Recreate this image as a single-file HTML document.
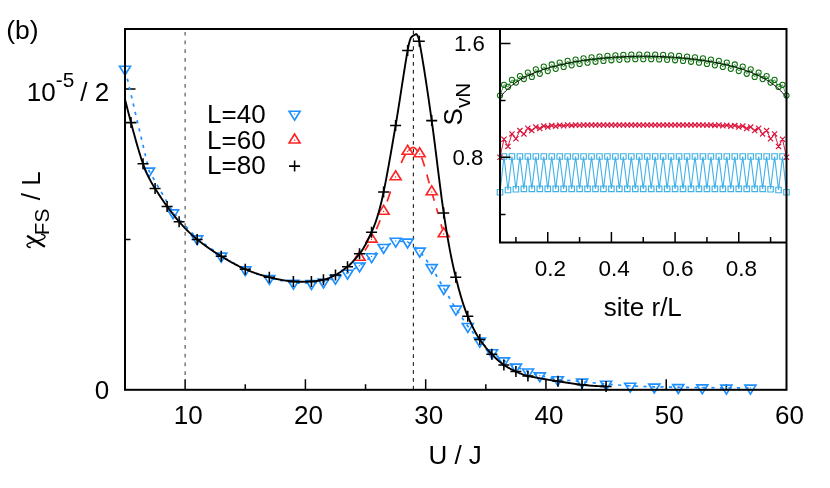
<!DOCTYPE html>
<html><head><meta charset="utf-8"><title>chart</title>
<style>
html,body{margin:0;padding:0;background:#fff;}
body{width:830px;height:488px;overflow:hidden;font-family:"Liberation Sans",sans-serif;}
svg{display:block;will-change:transform;}
</style></head><body>
<svg width="830" height="488" viewBox="0 0 830 488" font-family="'Liberation Sans', sans-serif" fill="#000">
<rect width="830" height="488" fill="#fff"/>
<path d="M185.14 31.9V379.8" stroke="#707070" stroke-width="1.4" stroke-dasharray="3.7 5" fill="none"/>
<path d="M413.35 30.4V389.8" stroke="#000" stroke-width="1.0" stroke-dasharray="3.7 4.2" fill="none"/>
<path d="M185.14 389.8V379.3M305.41 389.8V379.3M425.68 389.8V379.3M545.95 389.8V379.3M666.23 389.8V379.3M245.27 389.8V384.3M365.55 389.8V384.3M485.82 389.8V384.3M606.09 389.8V384.3M726.36 389.8V384.3M125 89H135.5M125 239.4H130.5" stroke="#000" stroke-width="1.5" fill="none"/>
<path d="M125 69 L149.05 170.8 L173.1 212.6 L197.2 238.6 L221.2 255.9 L245.3 269.6 L269.3 278.2 L293.4 283 L311.5 283.3 L323.5 281.8 L335.5 278.1 L347.5 273 L359.5 265.7 L371.6 256.5 L383.6 247.2 L395.7 241" stroke="#1e90ff" stroke-width="1.7" stroke-dasharray="3.2 5.3" stroke-dashoffset="-1.5" fill="none"/>
<path d="M395.7 241 L407.6 241.8 L419.7 250.9 L431.7 267.4 L443.8 288.3 L455.9 308.9 L467.8 326.2 L479.8 340.9 L492 352.5 L504 360.6 L516 366.8 L528 371.7 L539.8 375.6 L557.8 379.5 L582.1 381.8 L606.1 384 L630.2 386 L654.3 386.8 L678.3 387.3 L702.3 387.6 L726.4 387.9 L750.4 387.9" stroke="#1e90ff" stroke-width="1.7" stroke-dasharray="3.2 5.3" stroke-dashoffset="-4.06" fill="none"/>
<path d="M125 75.16 L119.5 66.25 L130.5 66.25 Z" fill="none" stroke="#1e90ff" stroke-width="1.65"/><rect x="124.4" y="68.4" width="1.2" height="1.2" fill="#1e90ff"/>
<path d="M149.05 176.96 L143.55 168.05 L154.55 168.05 Z" fill="none" stroke="#1e90ff" stroke-width="1.65"/><rect x="148.45" y="170.2" width="1.2" height="1.2" fill="#1e90ff"/>
<path d="M173.1 218.76 L167.6 209.85 L178.6 209.85 Z" fill="none" stroke="#1e90ff" stroke-width="1.65"/><rect x="172.5" y="212" width="1.2" height="1.2" fill="#1e90ff"/>
<path d="M197.2 244.76 L191.7 235.85 L202.7 235.85 Z" fill="none" stroke="#1e90ff" stroke-width="1.65"/><rect x="196.6" y="238" width="1.2" height="1.2" fill="#1e90ff"/>
<path d="M221.2 262.06 L215.7 253.15 L226.7 253.15 Z" fill="none" stroke="#1e90ff" stroke-width="1.65"/><rect x="220.6" y="255.3" width="1.2" height="1.2" fill="#1e90ff"/>
<path d="M245.3 275.76 L239.8 266.85 L250.8 266.85 Z" fill="none" stroke="#1e90ff" stroke-width="1.65"/><rect x="244.7" y="269" width="1.2" height="1.2" fill="#1e90ff"/>
<path d="M269.3 284.36 L263.8 275.45 L274.8 275.45 Z" fill="none" stroke="#1e90ff" stroke-width="1.65"/><rect x="268.7" y="277.6" width="1.2" height="1.2" fill="#1e90ff"/>
<path d="M293.4 289.16 L287.9 280.25 L298.9 280.25 Z" fill="none" stroke="#1e90ff" stroke-width="1.65"/><rect x="292.8" y="282.4" width="1.2" height="1.2" fill="#1e90ff"/>
<path d="M311.5 289.46 L306 280.55 L317 280.55 Z" fill="none" stroke="#1e90ff" stroke-width="1.65"/><rect x="310.9" y="282.7" width="1.2" height="1.2" fill="#1e90ff"/>
<path d="M323.5 287.96 L318 279.05 L329 279.05 Z" fill="none" stroke="#1e90ff" stroke-width="1.65"/><rect x="322.9" y="281.2" width="1.2" height="1.2" fill="#1e90ff"/>
<path d="M335.5 284.26 L330 275.35 L341 275.35 Z" fill="none" stroke="#1e90ff" stroke-width="1.65"/><rect x="334.9" y="277.5" width="1.2" height="1.2" fill="#1e90ff"/>
<path d="M347.5 279.16 L342 270.25 L353 270.25 Z" fill="none" stroke="#1e90ff" stroke-width="1.65"/><rect x="346.9" y="272.4" width="1.2" height="1.2" fill="#1e90ff"/>
<path d="M359.5 271.86 L354 262.95 L365 262.95 Z" fill="none" stroke="#1e90ff" stroke-width="1.65"/><rect x="358.9" y="265.1" width="1.2" height="1.2" fill="#1e90ff"/>
<path d="M371.6 262.66 L366.1 253.75 L377.1 253.75 Z" fill="none" stroke="#1e90ff" stroke-width="1.65"/><rect x="371" y="255.9" width="1.2" height="1.2" fill="#1e90ff"/>
<path d="M383.6 253.36 L378.1 244.45 L389.1 244.45 Z" fill="none" stroke="#1e90ff" stroke-width="1.65"/><rect x="383" y="246.6" width="1.2" height="1.2" fill="#1e90ff"/>
<path d="M395.7 247.16 L390.2 238.25 L401.2 238.25 Z" fill="none" stroke="#1e90ff" stroke-width="1.65"/><rect x="395.1" y="240.4" width="1.2" height="1.2" fill="#1e90ff"/>
<path d="M407.6 247.96 L402.1 239.05 L413.1 239.05 Z" fill="none" stroke="#1e90ff" stroke-width="1.65"/><rect x="407" y="241.2" width="1.2" height="1.2" fill="#1e90ff"/>
<path d="M419.7 257.06 L414.2 248.15 L425.2 248.15 Z" fill="none" stroke="#1e90ff" stroke-width="1.65"/><rect x="419.1" y="250.3" width="1.2" height="1.2" fill="#1e90ff"/>
<path d="M431.7 273.56 L426.2 264.65 L437.2 264.65 Z" fill="none" stroke="#1e90ff" stroke-width="1.65"/><rect x="431.1" y="266.8" width="1.2" height="1.2" fill="#1e90ff"/>
<path d="M443.8 294.46 L438.3 285.55 L449.3 285.55 Z" fill="none" stroke="#1e90ff" stroke-width="1.65"/><rect x="443.2" y="287.7" width="1.2" height="1.2" fill="#1e90ff"/>
<path d="M455.9 315.06 L450.4 306.15 L461.4 306.15 Z" fill="none" stroke="#1e90ff" stroke-width="1.65"/><rect x="455.3" y="308.3" width="1.2" height="1.2" fill="#1e90ff"/>
<path d="M467.8 332.36 L462.3 323.45 L473.3 323.45 Z" fill="none" stroke="#1e90ff" stroke-width="1.65"/><rect x="467.2" y="325.6" width="1.2" height="1.2" fill="#1e90ff"/>
<path d="M479.8 347.06 L474.3 338.15 L485.3 338.15 Z" fill="none" stroke="#1e90ff" stroke-width="1.65"/><rect x="479.2" y="340.3" width="1.2" height="1.2" fill="#1e90ff"/>
<path d="M492 358.66 L486.5 349.75 L497.5 349.75 Z" fill="none" stroke="#1e90ff" stroke-width="1.65"/><rect x="491.4" y="351.9" width="1.2" height="1.2" fill="#1e90ff"/>
<path d="M504 366.76 L498.5 357.85 L509.5 357.85 Z" fill="none" stroke="#1e90ff" stroke-width="1.65"/><rect x="503.4" y="360" width="1.2" height="1.2" fill="#1e90ff"/>
<path d="M516 372.96 L510.5 364.05 L521.5 364.05 Z" fill="none" stroke="#1e90ff" stroke-width="1.65"/><rect x="515.4" y="366.2" width="1.2" height="1.2" fill="#1e90ff"/>
<path d="M528 377.86 L522.5 368.95 L533.5 368.95 Z" fill="none" stroke="#1e90ff" stroke-width="1.65"/><rect x="527.4" y="371.1" width="1.2" height="1.2" fill="#1e90ff"/>
<path d="M539.8 381.76 L534.3 372.85 L545.3 372.85 Z" fill="none" stroke="#1e90ff" stroke-width="1.65"/><rect x="539.2" y="375" width="1.2" height="1.2" fill="#1e90ff"/>
<path d="M557.8 385.66 L552.3 376.75 L563.3 376.75 Z" fill="none" stroke="#1e90ff" stroke-width="1.65"/><rect x="557.2" y="378.9" width="1.2" height="1.2" fill="#1e90ff"/>
<path d="M582.1 387.96 L576.6 379.05 L587.6 379.05 Z" fill="none" stroke="#1e90ff" stroke-width="1.65"/><rect x="581.5" y="381.2" width="1.2" height="1.2" fill="#1e90ff"/>
<path d="M606.1 390.16 L600.6 381.25 L611.6 381.25 Z" fill="none" stroke="#1e90ff" stroke-width="1.65"/><rect x="605.5" y="383.4" width="1.2" height="1.2" fill="#1e90ff"/>
<path d="M630.2 392.16 L624.7 383.25 L635.7 383.25 Z" fill="none" stroke="#1e90ff" stroke-width="1.65"/><rect x="629.6" y="385.4" width="1.2" height="1.2" fill="#1e90ff"/>
<path d="M654.3 392.96 L648.8 384.05 L659.8 384.05 Z" fill="none" stroke="#1e90ff" stroke-width="1.65"/><rect x="653.7" y="386.2" width="1.2" height="1.2" fill="#1e90ff"/>
<path d="M678.3 393.46 L672.8 384.55 L683.8 384.55 Z" fill="none" stroke="#1e90ff" stroke-width="1.65"/><rect x="677.7" y="386.7" width="1.2" height="1.2" fill="#1e90ff"/>
<path d="M702.3 393.76 L696.8 384.85 L707.8 384.85 Z" fill="none" stroke="#1e90ff" stroke-width="1.65"/><rect x="701.7" y="387" width="1.2" height="1.2" fill="#1e90ff"/>
<path d="M726.4 394.06 L720.9 385.15 L731.9 385.15 Z" fill="none" stroke="#1e90ff" stroke-width="1.65"/><rect x="725.8" y="387.3" width="1.2" height="1.2" fill="#1e90ff"/>
<path d="M750.4 394.06 L744.9 385.15 L755.9 385.15 Z" fill="none" stroke="#1e90ff" stroke-width="1.65"/><rect x="749.8" y="387.3" width="1.2" height="1.2" fill="#1e90ff"/>
<path d="M364.88 250.48 L365.22 249.97 L365.55 249.46 L365.89 248.94 L366.23 248.41 L366.57 247.88 L366.9 247.34 L367.24 246.79 L367.58 246.24 L367.91 245.68 L368.25 245.12 L368.59 244.55 M376.42 229.19 L376.76 228.41 L377.09 227.63 L377.43 226.83 L377.77 226.03 L378.11 225.23 L378.44 224.42 L378.78 223.6 L379.12 222.78 L379.45 221.95 L379.79 221.11 L380.13 220.27 M387.12 201.6 L387.46 200.59 L387.79 199.57 L388.13 198.55 L388.47 197.53 L388.8 196.5 L389.14 195.47 L389.48 194.44 L389.81 193.42 L390.15 192.39 L390.49 191.36 M401.27 162.97 L401.61 162.19 L401.94 161.41 L402.28 160.65 L402.62 159.91 L402.95 159.18 L403.29 158.48 L403.63 157.79 L403.96 157.12 L404.3 156.47 L404.64 155.85 L404.98 155.25 L405.31 154.67 M408.51 150.59 L408.85 150.24 L409.19 149.89 L409.52 149.56 L409.86 149.24 L410.2 148.93 L410.53 148.64 L410.87 148.38 L411.21 148.15 L411.55 147.95 L411.88 147.78 L412.22 147.64 L412.56 147.55 L412.89 147.51 L413.23 147.51 L413.57 147.56 L413.9 147.66 L414.24 147.8 L414.58 147.99 L414.92 148.22 L415.25 148.48 L415.59 148.78 L415.93 149.11 L416.26 149.46 L416.6 149.84 L416.94 150.25 L417.27 150.67 L417.61 151.11 L417.95 151.57 L418.28 152.03 M421.57 157.63 L421.91 158.45 L422.24 159.31 L422.58 160.22 L422.92 161.16 L423.25 162.15 L423.59 163.17 L423.93 164.23 L424.26 165.31 L424.6 166.43 M426.88 174.49 L427.21 175.74 L427.55 177 L427.89 178.26 L428.22 179.52 L428.56 180.78 L428.9 182.03 L429.23 183.29 M432.6 195.03 L432.94 196.16 L433.28 197.29 L433.61 198.42 L433.95 199.56 L434.29 200.7 M436.48 208.21 L436.82 209.38 L437.15 210.55 L437.49 211.72 L437.83 212.9 L438.16 214.08 M441.03 224.24 L441.36 225.45 L441.7 226.66 L442.04 227.87 L442.37 229.09" stroke="#ff2424" stroke-width="1.7" fill="none"/>
<path d="M359.53 251.34 L354.03 260.25 L365.03 260.25 Z" fill="none" stroke="#ff2424" stroke-width="1.65"/><rect x="358.93" y="256.9" width="1.2" height="1.2" fill="#ff2424"/>
<path d="M371.56 233.14 L366.06 242.05 L377.06 242.05 Z" fill="none" stroke="#ff2424" stroke-width="1.65"/><rect x="370.96" y="238.7" width="1.2" height="1.2" fill="#ff2424"/>
<path d="M383.59 205.34 L378.09 214.25 L389.09 214.25 Z" fill="none" stroke="#ff2424" stroke-width="1.65"/><rect x="382.99" y="210.9" width="1.2" height="1.2" fill="#ff2424"/>
<path d="M395.61 170.84 L390.11 179.75 L401.11 179.75 Z" fill="none" stroke="#ff2424" stroke-width="1.65"/><rect x="395.01" y="176.4" width="1.2" height="1.2" fill="#ff2424"/>
<path d="M407.64 145.34 L402.14 154.25 L413.14 154.25 Z" fill="none" stroke="#ff2424" stroke-width="1.65"/><rect x="407.04" y="150.9" width="1.2" height="1.2" fill="#ff2424"/>
<path d="M419.67 147.84 L414.17 156.75 L425.17 156.75 Z" fill="none" stroke="#ff2424" stroke-width="1.65"/><rect x="419.07" y="153.4" width="1.2" height="1.2" fill="#ff2424"/>
<path d="M431.7 185.84 L426.2 194.75 L437.2 194.75 Z" fill="none" stroke="#ff2424" stroke-width="1.65"/><rect x="431.1" y="191.4" width="1.2" height="1.2" fill="#ff2424"/>
<path d="M443.72 227.84 L438.22 236.75 L449.22 236.75 Z" fill="none" stroke="#ff2424" stroke-width="1.65"/><rect x="443.12" y="233.4" width="1.2" height="1.2" fill="#ff2424"/>
<path d="M125 99.2 L125.54 101.39 L126.07 103.55 L126.61 105.68 L127.14 107.79 L127.68 109.88 L128.21 111.95 L128.75 114 L129.28 116.04 L129.82 118.08 L130.35 120.1 L130.89 122.12 L131.42 124.14 L131.96 126.15 L132.49 128.16 L133.03 130.16 L133.56 132.14 L134.1 134.12 L134.63 136.08 L135.17 138.03 L135.7 139.96 L136.24 141.87 L136.77 143.76 L137.31 145.63 L137.84 147.48 L138.38 149.3 L138.91 151.09 L139.45 152.85 L139.98 154.58 L140.52 156.28 L141.05 157.95 L141.59 159.58 L142.12 161.17 L142.66 162.72 L143.19 164.23 L143.73 165.69 L144.27 167.11 L144.8 168.48 L145.34 169.82 L145.87 171.1 L146.41 172.35 L146.94 173.57 L147.48 174.74 L148.01 175.88 L148.55 176.99 L149.08 178.07 L149.62 179.12 L150.15 180.14 L150.69 181.13 L151.22 182.1 L151.76 183.05 L152.29 183.97 L152.83 184.88 L153.36 185.77 L153.9 186.64 L154.43 187.5 L154.97 188.34 L155.5 189.18 L156.04 190.02 L156.57 190.85 L157.11 191.69 L157.64 192.52 L158.18 193.35 L158.71 194.17 L159.25 194.99 L159.78 195.81 L160.32 196.63 L160.85 197.44 L161.39 198.24 L161.92 199.04 L162.46 199.84 L162.99 200.62 L163.53 201.4 L164.07 202.18 L164.6 202.94 L165.14 203.7 L165.67 204.45 L166.21 205.19 L166.74 205.92 L167.28 206.64 L167.81 207.36 L168.35 208.08 L168.88 208.8 L169.42 209.51 L169.95 210.22 L170.49 210.93 L171.02 211.64 L171.56 212.34 L172.09 213.04 L172.63 213.73 L173.16 214.42 L173.7 215.11 L174.23 215.79 L174.77 216.46 L175.3 217.13 L175.84 217.79 L176.37 218.45 L176.91 219.1 L177.44 219.74 L177.98 220.37 L178.51 221 L179.05 221.62 L179.58 222.23 L180.12 222.83 L180.65 223.43 L181.19 224.03 L181.72 224.62 L182.26 225.21 L182.8 225.79 L183.33 226.37 L183.87 226.94 L184.4 227.5 L184.94 228.07 L185.47 228.62 L186.01 229.17 L186.54 229.72 L187.08 230.26 L187.61 230.79 L188.15 231.32 L188.68 231.85 L189.22 232.37 L189.75 232.88 L190.29 233.39 L190.82 233.89 L191.36 234.38 L191.89 234.88 L192.43 235.36 L192.96 235.84 L193.5 236.31 L194.03 236.78 L194.57 237.24 L195.1 237.7 L195.64 238.15 L196.17 238.59 L196.71 239.03 L197.24 239.46 L197.78 239.89 L198.31 240.32 L198.85 240.74 L199.38 241.16 L199.92 241.58 L200.45 242 L200.99 242.41 L201.53 242.82 L202.06 243.23 L202.6 243.64 L203.13 244.04 L203.67 244.44 L204.2 244.84 L204.74 245.24 L205.27 245.63 L205.81 246.02 L206.34 246.41 L206.88 246.8 L207.41 247.18 L207.95 247.57 L208.48 247.95 L209.02 248.32 L209.55 248.7 L210.09 249.07 L210.62 249.44 L211.16 249.81 L211.69 250.18 L212.23 250.54 L212.76 250.9 L213.3 251.26 L213.83 251.61 L214.37 251.97 L214.9 252.32 L215.44 252.67 L215.97 253.02 L216.51 253.36 L217.04 253.7 L217.58 254.04 L218.11 254.38 L218.65 254.72 L219.18 255.05 L219.72 255.38 L220.25 255.71 L220.79 256.04 L221.33 256.36 L221.86 256.69 L222.4 257.01 L222.93 257.33 L223.47 257.65 L224 257.97 L224.54 258.29 L225.07 258.61 L225.61 258.92 L226.14 259.24 L226.68 259.55 L227.21 259.86 L227.75 260.17 L228.28 260.48 L228.82 260.79 L229.35 261.09 L229.89 261.4 L230.42 261.7 L230.96 262 L231.49 262.3 L232.03 262.59 L232.56 262.89 L233.1 263.18 L233.63 263.47 L234.17 263.76 L234.7 264.05 L235.24 264.33 L235.77 264.61 L236.31 264.89 L236.84 265.17 L237.38 265.45 L237.91 265.72 L238.45 265.99 L238.98 266.26 L239.52 266.52 L240.06 266.79 L240.59 267.05 L241.13 267.3 L241.66 267.56 L242.2 267.81 L242.73 268.06 L243.27 268.3 L243.8 268.55 L244.34 268.79 L244.87 269.02 L245.41 269.26 L245.94 269.49 L246.48 269.72 L247.01 269.94 L247.55 270.17 L248.08 270.39 L248.62 270.61 L249.15 270.82 L249.69 271.03 L250.22 271.24 L250.76 271.45 L251.29 271.66 L251.83 271.86 L252.36 272.06 L252.9 272.26 L253.43 272.46 L253.97 272.65 L254.5 272.84 L255.04 273.03 L255.57 273.22 L256.11 273.4 L256.64 273.59 L257.18 273.77 L257.71 273.94 L258.25 274.12 L258.79 274.29 L259.32 274.46 L259.86 274.63 L260.39 274.8 L260.93 274.97 L261.46 275.13 L262 275.29 L262.53 275.45 L263.07 275.61 L263.6 275.76 L264.14 275.91 L264.67 276.07 L265.21 276.21 L265.74 276.36 L266.28 276.51 L266.81 276.65 L267.35 276.79 L267.88 276.93 L268.42 277.07 L268.95 277.21 L269.49 277.34 L270.02 277.47 L270.56 277.6 L271.09 277.73 L271.63 277.86 L272.16 277.99 L272.7 278.12 L273.23 278.24 L273.77 278.36 L274.3 278.48 L274.84 278.6 L275.37 278.72 L275.91 278.83 L276.44 278.95 L276.98 279.06 L277.51 279.17 L278.05 279.28 L278.59 279.39 L279.12 279.49 L279.66 279.59 L280.19 279.69 L280.73 279.79 L281.26 279.89 L281.8 279.99 L282.33 280.08 L282.87 280.17 L283.4 280.26 L283.94 280.35 L284.47 280.43 L285.01 280.51 L285.54 280.59 L286.08 280.67 L286.61 280.75 L287.15 280.82 L287.68 280.89 L288.22 280.96 L288.75 281.03 L289.29 281.09 L289.82 281.15 L290.36 281.21 L290.89 281.27 L291.43 281.32 L291.96 281.38 L292.5 281.42 L293.03 281.47 L293.57 281.52 L294.1 281.56 L294.64 281.59 L295.17 281.63 L295.71 281.66 L296.24 281.69 L296.78 281.71 L297.32 281.73 L297.85 281.75 L298.39 281.77 L298.92 281.78 L299.46 281.79 L299.99 281.8 L300.53 281.81 L301.06 281.81 L301.6 281.81 L302.13 281.81 L302.67 281.81 L303.2 281.8 L303.74 281.8 L304.27 281.79 L304.81 281.78 L305.34 281.76 L305.88 281.75 L306.41 281.73 L306.95 281.71 L307.48 281.69 L308.02 281.67 L308.55 281.65 L309.09 281.62 L309.62 281.6 L310.16 281.57 L310.69 281.54 L311.23 281.51 L311.76 281.48 L312.3 281.44 L312.83 281.41 L313.37 281.36 L313.9 281.32 L314.44 281.26 L314.97 281.21 L315.51 281.15 L316.04 281.09 L316.58 281.02 L317.12 280.95 L317.65 280.87 L318.19 280.79 L318.72 280.71 L319.26 280.62 L319.79 280.53 L320.33 280.44 L320.86 280.34 L321.4 280.23 L321.93 280.13 L322.47 280.02 L323 279.9 L323.54 279.78 L324.07 279.65 L324.61 279.51 L325.14 279.37 L325.68 279.21 L326.21 279.04 L326.75 278.86 L327.28 278.68 L327.82 278.48 L328.35 278.28 L328.89 278.07 L329.42 277.85 L329.96 277.63 L330.49 277.4 L331.03 277.16 L331.56 276.92 L332.1 276.67 L332.63 276.42 L333.17 276.16 L333.7 275.9 L334.24 275.63 L334.77 275.36 L335.31 275.09 L335.85 274.81 L336.38 274.52 L336.92 274.22 L337.45 273.91 L337.99 273.59 L338.52 273.26 L339.06 272.92 L339.59 272.57 L340.13 272.22 L340.66 271.85 L341.2 271.48 L341.73 271.11 L342.27 270.72 L342.8 270.33 L343.34 269.94 L343.87 269.53 L344.41 269.13 L344.94 268.72 L345.48 268.3 L346.01 267.88 L346.55 267.46 L347.08 267.04 L347.62 266.61 L348.15 266.17 L348.69 265.71 L349.22 265.23 L349.76 264.74 L350.29 264.23 L350.83 263.7 L351.36 263.17 L351.9 262.62 L352.43 262.05 L352.97 261.48 L353.5 260.89 L354.04 260.29 L354.58 259.69 L355.11 259.08 L355.65 258.46 L356.18 257.83 L356.72 257.2 L357.25 256.56 L357.79 255.91 L358.32 255.27 L358.86 254.62 L359.39 253.97 L359.93 253.31 L360.46 252.61 L361 251.88 L361.53 251.12 L362.07 250.32 L362.6 249.5 L363.14 248.64 L363.67 247.76 L364.21 246.84 L364.74 245.9 L365.28 244.94 L365.81 243.95 L366.35 242.94 L366.88 241.91 L367.42 240.86 L367.95 239.79 L368.49 238.71 L369.02 237.6 L369.56 236.49 L370.09 235.36 L370.63 234.21 L371.16 233.06 L371.7 231.89 L372.23 230.69 L372.77 229.46 L373.3 228.17 L373.84 226.84 L374.38 225.46 L374.91 224.03 L375.45 222.55 L375.98 221.01 L376.52 219.42 L377.05 217.77 L377.59 216.05 L378.12 214.27 L378.66 212.43 L379.19 210.52 L379.73 208.54 L380.26 206.49 L380.8 204.36 L381.33 202.16 L381.87 199.88 L382.4 197.52 L382.94 195.08 L383.47 192.55 L384.01 189.95 L384.54 187.29 L385.08 184.59 L385.61 181.85 L386.15 179.07 L386.68 176.24 L387.22 173.38 L387.75 170.49 L388.29 167.56 L388.82 164.6 L389.36 161.62 L389.89 158.61 L390.43 155.57 L390.96 152.52 L391.5 149.45 L392.03 146.36 L392.57 143.26 L393.11 140.15 L393.64 137.03 L394.18 133.91 L394.71 130.78 L395.25 127.65 L395.78 124.52 L396.32 121.34 L396.85 118.1 L397.39 114.82 L397.92 111.49 L398.46 108.12 L398.99 104.71 L399.53 101.28 L400.06 97.84 L400.6 94.37 L401.13 90.9 L401.67 87.43 L402.2 83.96 L402.74 80.5 L403.27 77.06 L403.81 73.65 L404.34 70.26 L404.88 66.91 L405.41 63.6 L405.95 60.33 L406.48 57.13 L407.02 53.98 L407.55 50.89 L408.09 47.96 L408.62 45.31 L409.16 42.97 L409.69 40.97 L410.23 39.33 L410.76 38.06 L411.3 37.2 L411.84 36.69 L412.37 36.26 L412.91 35.87 L413.44 35.51 L413.98 35.18 L414.51 34.85 L415.05 34.55 L415.58 34.28 L416.12 34.07 L416.65 34.32 L417.19 35.04 L417.72 36.05 L418.26 37.23 L418.79 38.88 L419.33 41.31 L419.86 44.2 L420.4 47.15 L420.93 50.17 L421.47 53.25 L422 56.39 L422.54 59.58 L423.07 62.82 L423.61 66.12 L424.14 69.46 L424.68 72.85 L425.21 76.28 L425.75 79.76 L426.28 83.28 L426.82 86.83 L427.35 90.42 L427.89 94.05 L428.42 97.7 L428.96 101.39 L429.49 105.1 L430.03 108.83 L430.56 112.59 L431.1 116.37 L431.64 120.17 L432.17 124.02 L432.71 127.95 L433.24 131.96 L433.78 136.04 L434.31 140.18 L434.85 144.37 L435.38 148.61 L435.92 152.87 L436.45 157.16 L436.99 161.47 L437.52 165.77 L438.06 170.08 L438.59 174.37 L439.13 178.64 L439.66 182.87 L440.2 187.07 L440.73 191.21 L441.27 195.29 L441.8 199.31 L442.34 203.24 L442.87 207.09 L443.41 210.84 L443.94 214.49 L444.48 218.06 L445.01 221.56 L445.55 224.98 L446.08 228.33 L446.62 231.61 L447.15 234.82 L447.69 237.95 L448.22 241.02 L448.76 244.02 L449.29 246.95 L449.83 249.81 L450.37 252.61 L450.9 255.34 L451.44 258 L451.97 260.61 L452.51 263.14 L453.04 265.62 L453.58 268.03 L454.11 270.38 L454.65 272.67 L455.18 274.9 L455.72 277.07 L456.25 279.19 L456.79 281.29 L457.32 283.36 L457.86 285.4 L458.39 287.42 L458.93 289.4 L459.46 291.34 L460 293.25 L460.53 295.13 L461.07 296.96 L461.6 298.76 L462.14 300.52 L462.67 302.24 L463.21 303.91 L463.74 305.53 L464.28 307.11 L464.81 308.65 L465.35 310.13 L465.88 311.56 L466.42 312.94 L466.95 314.27 L467.49 315.54 L468.02 316.76 L468.56 317.97 L469.1 319.17 L469.63 320.36 L470.17 321.54 L470.7 322.71 L471.24 323.87 L471.77 325.02 L472.31 326.15 L472.84 327.26 L473.38 328.35 L473.91 329.42 L474.45 330.47 L474.98 331.5 L475.52 332.51 L476.05 333.49 L476.59 334.44 L477.12 335.36 L477.66 336.25 L478.19 337.11 L478.73 337.94 L479.26 338.73 L479.8 339.49 L480.33 340.23 L480.87 340.96 L481.4 341.69 L481.94 342.42 L482.47 343.13 L483.01 343.85 L483.54 344.56 L484.08 345.26 L484.61 345.95 L485.15 346.64 L485.68 347.31 L486.22 347.98 L486.75 348.64 L487.29 349.29 L487.82 349.93 L488.36 350.55 L488.9 351.17 L489.43 351.77 L489.97 352.36 L490.5 352.93 L491.04 353.49 L491.57 354.04 L492.11 354.57 L492.64 355.1 L493.18 355.63 L493.71 356.16 L494.25 356.69 L494.78 357.21 L495.32 357.73 L495.85 358.24 L496.39 358.75 L496.92 359.25 L497.46 359.75 L497.99 360.23 L498.53 360.71 L499.06 361.19 L499.6 361.65 L500.13 362.1 L500.67 362.54 L501.2 362.97 L501.74 363.38 L502.27 363.79 L502.81 364.18 L503.34 364.55 L503.88 364.91 L504.41 365.26 L504.95 365.61 L505.48 365.95 L506.02 366.28 L506.55 366.61 L507.09 366.93 L507.63 367.25 L508.16 367.57 L508.7 367.87 L509.23 368.18 L509.77 368.47 L510.3 368.76 L510.84 369.05 L511.37 369.33 L511.91 369.61 L512.44 369.88 L512.98 370.15 L513.51 370.41 L514.05 370.66 L514.58 370.91 L515.12 371.16 L515.65 371.4 L516.19 371.63 L516.72 371.87 L517.26 372.11 L517.79 372.34 L518.33 372.58 L518.86 372.82 L519.4 373.05 L519.93 373.28 L520.47 373.51 L521 373.74 L521.54 373.96 L522.07 374.17 L522.61 374.38 L523.14 374.58 L523.68 374.78 L524.21 374.97 L524.75 375.15 L525.28 375.32 L525.82 375.48 L526.36 375.63 L526.89 375.77 L527.43 375.89 L527.96 376.01 L528.5 376.12 L529.03 376.23 L529.57 376.34 L530.1 376.44 L530.64 376.55 L531.17 376.66 L531.71 376.76 L532.24 376.87 L532.78 376.97 L533.31 377.08 L533.85 377.18 L534.38 377.28 L534.92 377.38 L535.45 377.49 L535.99 377.59 L536.52 377.69 L537.06 377.79 L537.59 377.88 L538.13 377.98 L538.66 378.08 L539.2 378.18 L539.73 378.27 L540.27 378.37 L540.8 378.47 L541.34 378.56 L541.87 378.66 L542.41 378.75 L542.94 378.84 L543.48 378.94 L544.01 379.03 L544.55 379.12 L545.08 379.21 L545.62 379.3 L546.16 379.39 L546.69 379.49 L547.23 379.57 L547.76 379.66 L548.3 379.75 L548.83 379.84 L549.37 379.93 L549.9 380.02 L550.44 380.11 L550.97 380.19 L551.51 380.28 L552.04 380.36 L552.58 380.45 L553.11 380.54 L553.65 380.62 L554.18 380.71 L554.72 380.79 L555.25 380.88 L555.79 380.96 L556.32 381.04 L556.86 381.13 L557.39 381.21 L557.93 381.29 L558.46 381.37 L559 381.46 L559.53 381.54 L560.07 381.62 L560.6 381.71 L561.14 381.79 L561.67 381.87 L562.21 381.95 L562.74 382.04 L563.28 382.12 L563.81 382.2 L564.35 382.28 L564.89 382.37 L565.42 382.45 L565.96 382.53 L566.49 382.61 L567.03 382.69 L567.56 382.78 L568.1 382.86 L568.63 382.94 L569.17 383.02 L569.7 383.1 L570.24 383.18 L570.77 383.26 L571.31 383.33 L571.84 383.41 L572.38 383.49 L572.91 383.57 L573.45 383.65 L573.98 383.72 L574.52 383.8 L575.05 383.87 L575.59 383.95 L576.12 384.02 L576.66 384.1 L577.19 384.17 L577.73 384.24 L578.26 384.31 L578.8 384.39 L579.33 384.46 L579.87 384.53 L580.4 384.59 L580.94 384.66 L581.47 384.73 L582.01 384.8 L582.54 384.86 L583.08 384.93 L583.62 384.99 L584.15 385.05 L584.69 385.11 L585.22 385.16 L585.76 385.22 L586.29 385.27 L586.83 385.32 L587.36 385.37 L587.9 385.42 L588.43 385.47 L588.97 385.52 L589.5 385.56 L590.04 385.6 L590.57 385.65 L591.11 385.69 L591.64 385.73 L592.18 385.77 L592.71 385.8 L593.25 385.84 L593.78 385.87 L594.32 385.91 L594.85 385.94 L595.39 385.97 L595.92 386 L596.46 386.03 L596.99 386.06 L597.53 386.08 L598.06 386.11 L598.6 386.13 L599.13 386.16 L599.67 386.18 L600.2 386.2 L600.74 386.22 L601.27 386.25 L601.81 386.27 L602.34 386.28 L602.88 386.3 L603.42 386.32 L603.95 386.34 L604.49 386.35 L605.02 386.37 L605.56 386.39 L606.09 386.4" stroke="#000" stroke-width="1.9" fill="none" stroke-linejoin="round"/>
<path d="M125.51 122.6H136.51M131.01 117.1V128.1" stroke="#000" stroke-width="1.55" fill="none"/>
<path d="M137.54 163.8H148.54M143.04 158.3V169.3" stroke="#000" stroke-width="1.55" fill="none"/>
<path d="M149.57 188.5H160.57M155.07 183V194" stroke="#000" stroke-width="1.55" fill="none"/>
<path d="M161.6 206.4H172.6M167.1 200.9V211.9" stroke="#000" stroke-width="1.55" fill="none"/>
<path d="M173.62 221.7H184.62M179.12 216.2V227.2" stroke="#000" stroke-width="1.55" fill="none"/>
<path d="M191.66 239.4H202.66M197.16 233.9V244.9" stroke="#000" stroke-width="1.55" fill="none"/>
<path d="M215.72 256.3H226.72M221.22 250.8V261.8" stroke="#000" stroke-width="1.55" fill="none"/>
<path d="M239.77 269.2H250.77M245.27 263.7V274.7" stroke="#000" stroke-width="1.55" fill="none"/>
<path d="M263.83 277.3H274.83M269.33 271.8V282.8" stroke="#000" stroke-width="1.55" fill="none"/>
<path d="M287.88 281.5H298.88M293.38 276V287" stroke="#000" stroke-width="1.55" fill="none"/>
<path d="M305.92 281.5H316.92M311.42 276V287" stroke="#000" stroke-width="1.55" fill="none"/>
<path d="M317.95 279.8H328.95M323.45 274.3V285.3" stroke="#000" stroke-width="1.55" fill="none"/>
<path d="M329.98 275H340.98M335.48 269.5V280.5" stroke="#000" stroke-width="1.55" fill="none"/>
<path d="M342 266.7H353M347.5 261.2V272.2" stroke="#000" stroke-width="1.55" fill="none"/>
<path d="M354.03 253.8H365.03M359.53 248.3V259.3" stroke="#000" stroke-width="1.55" fill="none"/>
<path d="M366.06 232.2H377.06M371.56 226.7V237.7" stroke="#000" stroke-width="1.55" fill="none"/>
<path d="M378.09 192H389.09M383.59 186.5V197.5" stroke="#000" stroke-width="1.55" fill="none"/>
<path d="M390.11 125.5H401.11M395.61 120V131" stroke="#000" stroke-width="1.55" fill="none"/>
<path d="M402.14 50.4H413.14M407.64 44.9V55.9" stroke="#000" stroke-width="1.55" fill="none"/>
<path d="M413.81 41.2H424.81M419.31 35.7V46.7" stroke="#000" stroke-width="1.55" fill="none"/>
<path d="M426.2 120.6H437.2M431.7 115.1V126.1" stroke="#000" stroke-width="1.55" fill="none"/>
<path d="M438.22 213H449.22M443.72 207.5V218.5" stroke="#000" stroke-width="1.55" fill="none"/>
<path d="M450.25 277.2H461.25M455.75 271.7V282.7" stroke="#000" stroke-width="1.55" fill="none"/>
<path d="M462.28 316.2H473.28M467.78 310.7V321.7" stroke="#000" stroke-width="1.55" fill="none"/>
<path d="M474.3 339.5H485.3M479.8 334V345" stroke="#000" stroke-width="1.55" fill="none"/>
<path d="M486.33 354.3H497.33M491.83 348.8V359.8" stroke="#000" stroke-width="1.55" fill="none"/>
<path d="M498.36 364.9H509.36M503.86 359.4V370.4" stroke="#000" stroke-width="1.55" fill="none"/>
<path d="M510.39 371.5H521.39M515.89 366V377" stroke="#000" stroke-width="1.55" fill="none"/>
<path d="M522.41 376H533.41M527.91 370.5V381.5" stroke="#000" stroke-width="1.55" fill="none"/>
<path d="M552.48 381.3H563.48M557.98 375.8V386.8" stroke="#000" stroke-width="1.55" fill="none"/>
<path d="M576.54 384.8H587.54M582.04 379.3V390.3" stroke="#000" stroke-width="1.55" fill="none"/>
<path d="M600.59 386.4H611.59M606.09 380.9V391.9" stroke="#000" stroke-width="1.55" fill="none"/>
<path d="M500 192.2 L503.98 156.5 L507.96 190 L511.94 156.5 L515.92 189.2 L519.9 156.5 L523.88 188.9 L527.85 156.5 L531.83 188.9 L535.81 156.5 L539.79 188.9 L543.77 156.5 L547.75 188.9 L551.73 156.5 L555.71 188.9 L559.69 156.5 L563.67 188.9 L567.65 156.5 L571.62 188.9 L575.6 156.5 L579.58 188.9 L583.56 156.5 L587.54 188.9 L591.52 156.5 L595.5 188.9 L599.48 156.5 L603.46 188.9 L607.44 156.5 L611.42 188.9 L615.4 156.5 L619.38 188.9 L623.35 156.5 L627.33 188.9 L631.31 156.5 L635.29 188.9 L639.27 156.5 L643.25 188.9 L647.23 156.5 L651.21 188.9 L655.19 156.5 L659.17 188.9 L663.15 156.5 L667.12 188.9 L671.1 156.5 L675.08 188.9 L679.06 156.5 L683.04 188.9 L687.02 156.5 L691 188.9 L694.98 156.5 L698.96 188.9 L702.94 156.5 L706.92 188.9 L710.9 156.5 L714.88 188.9 L718.85 156.5 L722.83 188.9 L726.81 156.5 L730.79 188.9 L734.77 156.5 L738.75 188.9 L742.73 156.5 L746.71 188.9 L750.69 156.5 L754.67 188.9 L758.65 156.5 L762.62 188.9 L766.6 156.5 L770.58 189.2 L774.56 156.5 L778.54 190 L782.52 156.5 L786.5 192.2" stroke="#41b1e6" stroke-width="1.1" fill="none"/>
<path d="M497.25 189.45h5.5v5.5h-5.5zM501.23 153.75h5.5v5.5h-5.5zM505.21 187.25h5.5v5.5h-5.5zM509.19 153.75h5.5v5.5h-5.5zM513.17 186.45h5.5v5.5h-5.5zM517.15 153.75h5.5v5.5h-5.5zM521.12 186.15h5.5v5.5h-5.5zM525.1 153.75h5.5v5.5h-5.5zM529.08 186.15h5.5v5.5h-5.5zM533.06 153.75h5.5v5.5h-5.5zM537.04 186.15h5.5v5.5h-5.5zM541.02 153.75h5.5v5.5h-5.5zM545 186.15h5.5v5.5h-5.5zM548.98 153.75h5.5v5.5h-5.5zM552.96 186.15h5.5v5.5h-5.5zM556.94 153.75h5.5v5.5h-5.5zM560.92 186.15h5.5v5.5h-5.5zM564.9 153.75h5.5v5.5h-5.5zM568.88 186.15h5.5v5.5h-5.5zM572.85 153.75h5.5v5.5h-5.5zM576.83 186.15h5.5v5.5h-5.5zM580.81 153.75h5.5v5.5h-5.5zM584.79 186.15h5.5v5.5h-5.5zM588.77 153.75h5.5v5.5h-5.5zM592.75 186.15h5.5v5.5h-5.5zM596.73 153.75h5.5v5.5h-5.5zM600.71 186.15h5.5v5.5h-5.5zM604.69 153.75h5.5v5.5h-5.5zM608.67 186.15h5.5v5.5h-5.5zM612.65 153.75h5.5v5.5h-5.5zM616.62 186.15h5.5v5.5h-5.5zM620.6 153.75h5.5v5.5h-5.5zM624.58 186.15h5.5v5.5h-5.5zM628.56 153.75h5.5v5.5h-5.5zM632.54 186.15h5.5v5.5h-5.5zM636.52 153.75h5.5v5.5h-5.5zM640.5 186.15h5.5v5.5h-5.5zM644.48 153.75h5.5v5.5h-5.5zM648.46 186.15h5.5v5.5h-5.5zM652.44 153.75h5.5v5.5h-5.5zM656.42 186.15h5.5v5.5h-5.5zM660.4 153.75h5.5v5.5h-5.5zM664.38 186.15h5.5v5.5h-5.5zM668.35 153.75h5.5v5.5h-5.5zM672.33 186.15h5.5v5.5h-5.5zM676.31 153.75h5.5v5.5h-5.5zM680.29 186.15h5.5v5.5h-5.5zM684.27 153.75h5.5v5.5h-5.5zM688.25 186.15h5.5v5.5h-5.5zM692.23 153.75h5.5v5.5h-5.5zM696.21 186.15h5.5v5.5h-5.5zM700.19 153.75h5.5v5.5h-5.5zM704.17 186.15h5.5v5.5h-5.5zM708.15 153.75h5.5v5.5h-5.5zM712.12 186.15h5.5v5.5h-5.5zM716.1 153.75h5.5v5.5h-5.5zM720.08 186.15h5.5v5.5h-5.5zM724.06 153.75h5.5v5.5h-5.5zM728.04 186.15h5.5v5.5h-5.5zM732.02 153.75h5.5v5.5h-5.5zM736 186.15h5.5v5.5h-5.5zM739.98 153.75h5.5v5.5h-5.5zM743.96 186.15h5.5v5.5h-5.5zM747.94 153.75h5.5v5.5h-5.5zM751.92 186.15h5.5v5.5h-5.5zM755.9 153.75h5.5v5.5h-5.5zM759.88 186.15h5.5v5.5h-5.5zM763.85 153.75h5.5v5.5h-5.5zM767.83 186.45h5.5v5.5h-5.5zM771.81 153.75h5.5v5.5h-5.5zM775.79 187.25h5.5v5.5h-5.5zM779.77 153.75h5.5v5.5h-5.5zM783.75 189.45h5.5v5.5h-5.5z" stroke="#41b1e6" stroke-width="1.15" fill="none"/>
<path d="M500 157.2 L503.98 139.2 L507.96 146.4 L511.94 133.9 L515.92 138.8 L519.9 130.6 L523.88 133.9 L527.85 128.3 L531.83 130.6 L535.81 127.1 L539.79 128.6 L543.77 126.1 L547.75 127.1 L551.73 125.6 L555.71 126.3 L559.69 125.3 L563.67 125.7 L567.65 125 L571.62 125.4 L575.6 124.9 L579.58 125.2 L583.56 125 L587.54 125 L591.52 125 L595.5 125 L599.48 125 L603.46 125 L607.44 125 L611.42 125 L615.4 125 L619.38 125 L623.35 125 L627.33 125 L631.31 125 L635.29 125 L639.27 125 L643.25 125 L647.23 125 L651.21 125 L655.19 125 L659.17 125 L663.15 125 L667.12 125 L671.1 125 L675.08 125 L679.06 125 L683.04 125 L687.02 125 L691 125 L694.98 125 L698.96 125 L702.94 125 L706.92 125.2 L710.9 124.9 L714.88 125.4 L718.85 125 L722.83 125.7 L726.81 125.3 L730.79 126.3 L734.77 125.6 L738.75 127.1 L742.73 126.1 L746.71 128.6 L750.69 127.1 L754.67 130.6 L758.65 128.3 L762.62 133.9 L766.6 130.6 L770.58 138.8 L774.56 133.9 L778.54 146.4 L782.52 139.2 L786.5 157.2" stroke="#dc143c" stroke-width="0.95" fill="none"/>
<path d="M497.4 154.6l5.2 5.2M497.4 159.8l5.2 -5.2M501.38 136.6l5.2 5.2M501.38 141.8l5.2 -5.2M505.36 143.8l5.2 5.2M505.36 149l5.2 -5.2M509.34 131.3l5.2 5.2M509.34 136.5l5.2 -5.2M513.32 136.2l5.2 5.2M513.32 141.4l5.2 -5.2M517.3 128l5.2 5.2M517.3 133.2l5.2 -5.2M521.27 131.3l5.2 5.2M521.27 136.5l5.2 -5.2M525.25 125.7l5.2 5.2M525.25 130.9l5.2 -5.2M529.23 128l5.2 5.2M529.23 133.2l5.2 -5.2M533.21 124.5l5.2 5.2M533.21 129.7l5.2 -5.2M537.19 126l5.2 5.2M537.19 131.2l5.2 -5.2M541.17 123.5l5.2 5.2M541.17 128.7l5.2 -5.2M545.15 124.5l5.2 5.2M545.15 129.7l5.2 -5.2M549.13 123l5.2 5.2M549.13 128.2l5.2 -5.2M553.11 123.7l5.2 5.2M553.11 128.9l5.2 -5.2M557.09 122.7l5.2 5.2M557.09 127.9l5.2 -5.2M561.07 123.1l5.2 5.2M561.07 128.3l5.2 -5.2M565.05 122.4l5.2 5.2M565.05 127.6l5.2 -5.2M569.02 122.8l5.2 5.2M569.02 128l5.2 -5.2M573 122.3l5.2 5.2M573 127.5l5.2 -5.2M576.98 122.6l5.2 5.2M576.98 127.8l5.2 -5.2M580.96 122.4l5.2 5.2M580.96 127.6l5.2 -5.2M584.94 122.4l5.2 5.2M584.94 127.6l5.2 -5.2M588.92 122.4l5.2 5.2M588.92 127.6l5.2 -5.2M592.9 122.4l5.2 5.2M592.9 127.6l5.2 -5.2M596.88 122.4l5.2 5.2M596.88 127.6l5.2 -5.2M600.86 122.4l5.2 5.2M600.86 127.6l5.2 -5.2M604.84 122.4l5.2 5.2M604.84 127.6l5.2 -5.2M608.82 122.4l5.2 5.2M608.82 127.6l5.2 -5.2M612.8 122.4l5.2 5.2M612.8 127.6l5.2 -5.2M616.77 122.4l5.2 5.2M616.77 127.6l5.2 -5.2M620.75 122.4l5.2 5.2M620.75 127.6l5.2 -5.2M624.73 122.4l5.2 5.2M624.73 127.6l5.2 -5.2M628.71 122.4l5.2 5.2M628.71 127.6l5.2 -5.2M632.69 122.4l5.2 5.2M632.69 127.6l5.2 -5.2M636.67 122.4l5.2 5.2M636.67 127.6l5.2 -5.2M640.65 122.4l5.2 5.2M640.65 127.6l5.2 -5.2M644.63 122.4l5.2 5.2M644.63 127.6l5.2 -5.2M648.61 122.4l5.2 5.2M648.61 127.6l5.2 -5.2M652.59 122.4l5.2 5.2M652.59 127.6l5.2 -5.2M656.57 122.4l5.2 5.2M656.57 127.6l5.2 -5.2M660.55 122.4l5.2 5.2M660.55 127.6l5.2 -5.2M664.52 122.4l5.2 5.2M664.52 127.6l5.2 -5.2M668.5 122.4l5.2 5.2M668.5 127.6l5.2 -5.2M672.48 122.4l5.2 5.2M672.48 127.6l5.2 -5.2M676.46 122.4l5.2 5.2M676.46 127.6l5.2 -5.2M680.44 122.4l5.2 5.2M680.44 127.6l5.2 -5.2M684.42 122.4l5.2 5.2M684.42 127.6l5.2 -5.2M688.4 122.4l5.2 5.2M688.4 127.6l5.2 -5.2M692.38 122.4l5.2 5.2M692.38 127.6l5.2 -5.2M696.36 122.4l5.2 5.2M696.36 127.6l5.2 -5.2M700.34 122.4l5.2 5.2M700.34 127.6l5.2 -5.2M704.32 122.6l5.2 5.2M704.32 127.8l5.2 -5.2M708.3 122.3l5.2 5.2M708.3 127.5l5.2 -5.2M712.27 122.8l5.2 5.2M712.27 128l5.2 -5.2M716.25 122.4l5.2 5.2M716.25 127.6l5.2 -5.2M720.23 123.1l5.2 5.2M720.23 128.3l5.2 -5.2M724.21 122.7l5.2 5.2M724.21 127.9l5.2 -5.2M728.19 123.7l5.2 5.2M728.19 128.9l5.2 -5.2M732.17 123l5.2 5.2M732.17 128.2l5.2 -5.2M736.15 124.5l5.2 5.2M736.15 129.7l5.2 -5.2M740.13 123.5l5.2 5.2M740.13 128.7l5.2 -5.2M744.11 126l5.2 5.2M744.11 131.2l5.2 -5.2M748.09 124.5l5.2 5.2M748.09 129.7l5.2 -5.2M752.07 128l5.2 5.2M752.07 133.2l5.2 -5.2M756.05 125.7l5.2 5.2M756.05 130.9l5.2 -5.2M760.02 131.3l5.2 5.2M760.02 136.5l5.2 -5.2M764 128l5.2 5.2M764 133.2l5.2 -5.2M767.98 136.2l5.2 5.2M767.98 141.4l5.2 -5.2M771.96 131.3l5.2 5.2M771.96 136.5l5.2 -5.2M775.94 143.8l5.2 5.2M775.94 149l5.2 -5.2M779.92 136.6l5.2 5.2M779.92 141.8l5.2 -5.2M783.9 154.6l5.2 5.2M783.9 159.8l5.2 -5.2" stroke="#dc143c" stroke-width="1.2" fill="none"/>
<path d="M500 95.5 L503.98 84.8 L507.96 86.9 L511.94 79.9 L515.92 82.6 L519.9 76 L523.88 79.1 L527.85 72.51 L531.83 76.97 L535.81 69.33 L539.79 73.79 L543.77 66.69 L547.75 71.12 L551.73 64.46 L555.71 68.87 L559.69 62.56 L563.67 66.95 L567.65 60.94 L571.62 65.32 L575.6 59.55 L579.58 63.92 L583.56 58.36 L587.54 62.74 L591.52 57.36 L595.5 61.76 L599.48 56.53 L603.46 60.94 L607.44 55.86 L611.42 60.29 L615.4 55.33 L619.38 59.8 L623.35 54.94 L627.33 59.44 L631.31 54.68 L635.29 59.23 L639.27 54.56 L643.25 59.15 L647.23 54.56 L651.21 59.23 L655.19 54.68 L659.17 59.44 L663.15 54.94 L667.12 59.8 L671.1 55.33 L675.08 60.29 L679.06 55.86 L683.04 60.94 L687.02 56.53 L691 61.76 L694.98 57.36 L698.96 62.74 L702.94 58.36 L706.92 63.92 L710.9 59.55 L714.88 65.32 L718.85 60.94 L722.83 66.95 L726.81 62.56 L730.79 68.87 L734.77 64.46 L738.75 71.12 L742.73 66.69 L746.71 73.79 L750.69 69.33 L754.67 76.97 L758.65 72.51 L762.62 79.1 L766.6 76 L770.58 82.6 L774.56 79.9 L778.54 86.9 L782.52 84.8 L786.5 95.5" stroke="#0d6e0d" stroke-width="0.7" fill="none"/>
<circle cx="500" cy="95.5" r="2.6" fill="none" stroke="#0d6e0d" stroke-width="1.05"/><circle cx="503.98" cy="84.8" r="2.6" fill="none" stroke="#0d6e0d" stroke-width="1.05"/><circle cx="507.96" cy="86.9" r="2.6" fill="none" stroke="#0d6e0d" stroke-width="1.05"/><circle cx="511.94" cy="79.9" r="2.6" fill="none" stroke="#0d6e0d" stroke-width="1.05"/><circle cx="515.92" cy="82.6" r="2.6" fill="none" stroke="#0d6e0d" stroke-width="1.05"/><circle cx="519.9" cy="76" r="2.6" fill="none" stroke="#0d6e0d" stroke-width="1.05"/><circle cx="523.88" cy="79.1" r="2.6" fill="none" stroke="#0d6e0d" stroke-width="1.05"/><circle cx="527.85" cy="72.51" r="2.6" fill="none" stroke="#0d6e0d" stroke-width="1.05"/><circle cx="531.83" cy="76.97" r="2.6" fill="none" stroke="#0d6e0d" stroke-width="1.05"/><circle cx="535.81" cy="69.33" r="2.6" fill="none" stroke="#0d6e0d" stroke-width="1.05"/><circle cx="539.79" cy="73.79" r="2.6" fill="none" stroke="#0d6e0d" stroke-width="1.05"/><circle cx="543.77" cy="66.69" r="2.6" fill="none" stroke="#0d6e0d" stroke-width="1.05"/><circle cx="547.75" cy="71.12" r="2.6" fill="none" stroke="#0d6e0d" stroke-width="1.05"/><circle cx="551.73" cy="64.46" r="2.6" fill="none" stroke="#0d6e0d" stroke-width="1.05"/><circle cx="555.71" cy="68.87" r="2.6" fill="none" stroke="#0d6e0d" stroke-width="1.05"/><circle cx="559.69" cy="62.56" r="2.6" fill="none" stroke="#0d6e0d" stroke-width="1.05"/><circle cx="563.67" cy="66.95" r="2.6" fill="none" stroke="#0d6e0d" stroke-width="1.05"/><circle cx="567.65" cy="60.94" r="2.6" fill="none" stroke="#0d6e0d" stroke-width="1.05"/><circle cx="571.62" cy="65.32" r="2.6" fill="none" stroke="#0d6e0d" stroke-width="1.05"/><circle cx="575.6" cy="59.55" r="2.6" fill="none" stroke="#0d6e0d" stroke-width="1.05"/><circle cx="579.58" cy="63.92" r="2.6" fill="none" stroke="#0d6e0d" stroke-width="1.05"/><circle cx="583.56" cy="58.36" r="2.6" fill="none" stroke="#0d6e0d" stroke-width="1.05"/><circle cx="587.54" cy="62.74" r="2.6" fill="none" stroke="#0d6e0d" stroke-width="1.05"/><circle cx="591.52" cy="57.36" r="2.6" fill="none" stroke="#0d6e0d" stroke-width="1.05"/><circle cx="595.5" cy="61.76" r="2.6" fill="none" stroke="#0d6e0d" stroke-width="1.05"/><circle cx="599.48" cy="56.53" r="2.6" fill="none" stroke="#0d6e0d" stroke-width="1.05"/><circle cx="603.46" cy="60.94" r="2.6" fill="none" stroke="#0d6e0d" stroke-width="1.05"/><circle cx="607.44" cy="55.86" r="2.6" fill="none" stroke="#0d6e0d" stroke-width="1.05"/><circle cx="611.42" cy="60.29" r="2.6" fill="none" stroke="#0d6e0d" stroke-width="1.05"/><circle cx="615.4" cy="55.33" r="2.6" fill="none" stroke="#0d6e0d" stroke-width="1.05"/><circle cx="619.38" cy="59.8" r="2.6" fill="none" stroke="#0d6e0d" stroke-width="1.05"/><circle cx="623.35" cy="54.94" r="2.6" fill="none" stroke="#0d6e0d" stroke-width="1.05"/><circle cx="627.33" cy="59.44" r="2.6" fill="none" stroke="#0d6e0d" stroke-width="1.05"/><circle cx="631.31" cy="54.68" r="2.6" fill="none" stroke="#0d6e0d" stroke-width="1.05"/><circle cx="635.29" cy="59.23" r="2.6" fill="none" stroke="#0d6e0d" stroke-width="1.05"/><circle cx="639.27" cy="54.56" r="2.6" fill="none" stroke="#0d6e0d" stroke-width="1.05"/><circle cx="643.25" cy="59.15" r="2.6" fill="none" stroke="#0d6e0d" stroke-width="1.05"/><circle cx="647.23" cy="54.56" r="2.6" fill="none" stroke="#0d6e0d" stroke-width="1.05"/><circle cx="651.21" cy="59.23" r="2.6" fill="none" stroke="#0d6e0d" stroke-width="1.05"/><circle cx="655.19" cy="54.68" r="2.6" fill="none" stroke="#0d6e0d" stroke-width="1.05"/><circle cx="659.17" cy="59.44" r="2.6" fill="none" stroke="#0d6e0d" stroke-width="1.05"/><circle cx="663.15" cy="54.94" r="2.6" fill="none" stroke="#0d6e0d" stroke-width="1.05"/><circle cx="667.12" cy="59.8" r="2.6" fill="none" stroke="#0d6e0d" stroke-width="1.05"/><circle cx="671.1" cy="55.33" r="2.6" fill="none" stroke="#0d6e0d" stroke-width="1.05"/><circle cx="675.08" cy="60.29" r="2.6" fill="none" stroke="#0d6e0d" stroke-width="1.05"/><circle cx="679.06" cy="55.86" r="2.6" fill="none" stroke="#0d6e0d" stroke-width="1.05"/><circle cx="683.04" cy="60.94" r="2.6" fill="none" stroke="#0d6e0d" stroke-width="1.05"/><circle cx="687.02" cy="56.53" r="2.6" fill="none" stroke="#0d6e0d" stroke-width="1.05"/><circle cx="691" cy="61.76" r="2.6" fill="none" stroke="#0d6e0d" stroke-width="1.05"/><circle cx="694.98" cy="57.36" r="2.6" fill="none" stroke="#0d6e0d" stroke-width="1.05"/><circle cx="698.96" cy="62.74" r="2.6" fill="none" stroke="#0d6e0d" stroke-width="1.05"/><circle cx="702.94" cy="58.36" r="2.6" fill="none" stroke="#0d6e0d" stroke-width="1.05"/><circle cx="706.92" cy="63.92" r="2.6" fill="none" stroke="#0d6e0d" stroke-width="1.05"/><circle cx="710.9" cy="59.55" r="2.6" fill="none" stroke="#0d6e0d" stroke-width="1.05"/><circle cx="714.88" cy="65.32" r="2.6" fill="none" stroke="#0d6e0d" stroke-width="1.05"/><circle cx="718.85" cy="60.94" r="2.6" fill="none" stroke="#0d6e0d" stroke-width="1.05"/><circle cx="722.83" cy="66.95" r="2.6" fill="none" stroke="#0d6e0d" stroke-width="1.05"/><circle cx="726.81" cy="62.56" r="2.6" fill="none" stroke="#0d6e0d" stroke-width="1.05"/><circle cx="730.79" cy="68.87" r="2.6" fill="none" stroke="#0d6e0d" stroke-width="1.05"/><circle cx="734.77" cy="64.46" r="2.6" fill="none" stroke="#0d6e0d" stroke-width="1.05"/><circle cx="738.75" cy="71.12" r="2.6" fill="none" stroke="#0d6e0d" stroke-width="1.05"/><circle cx="742.73" cy="66.69" r="2.6" fill="none" stroke="#0d6e0d" stroke-width="1.05"/><circle cx="746.71" cy="73.79" r="2.6" fill="none" stroke="#0d6e0d" stroke-width="1.05"/><circle cx="750.69" cy="69.33" r="2.6" fill="none" stroke="#0d6e0d" stroke-width="1.05"/><circle cx="754.67" cy="76.97" r="2.6" fill="none" stroke="#0d6e0d" stroke-width="1.05"/><circle cx="758.65" cy="72.51" r="2.6" fill="none" stroke="#0d6e0d" stroke-width="1.05"/><circle cx="762.62" cy="79.1" r="2.6" fill="none" stroke="#0d6e0d" stroke-width="1.05"/><circle cx="766.6" cy="76" r="2.6" fill="none" stroke="#0d6e0d" stroke-width="1.05"/><circle cx="770.58" cy="82.6" r="2.6" fill="none" stroke="#0d6e0d" stroke-width="1.05"/><circle cx="774.56" cy="79.9" r="2.6" fill="none" stroke="#0d6e0d" stroke-width="1.05"/><circle cx="778.54" cy="86.9" r="2.6" fill="none" stroke="#0d6e0d" stroke-width="1.05"/><circle cx="782.52" cy="84.8" r="2.6" fill="none" stroke="#0d6e0d" stroke-width="1.05"/><circle cx="786.5" cy="95.5" r="2.6" fill="none" stroke="#0d6e0d" stroke-width="1.05"/>
<path d="M500 97.75 L501.44 95.83 L502.88 94.07 L504.32 92.43 L505.76 90.92 L507.2 89.5 L508.64 88.17 L510.08 86.92 L511.52 85.74 L512.96 84.63 L514.4 83.57 L515.84 82.56 L517.28 81.6 L518.72 80.69 L520.16 79.81 L521.6 78.97 L523.04 78.17 L524.47 77.4 L525.91 76.66 L527.35 75.94 L528.79 75.26 L530.23 74.6 L531.67 73.96 L533.11 73.34 L534.55 72.75 L535.99 72.17 L537.43 71.61 L538.87 71.08 L540.31 70.55 L541.75 70.05 L543.19 69.56 L544.63 69.08 L546.07 68.62 L547.51 68.18 L548.95 67.74 L550.39 67.32 L551.83 66.91 L553.27 66.52 L554.71 66.13 L556.15 65.76 L557.59 65.39 L559.03 65.04 L560.47 64.69 L561.91 64.36 L563.35 64.03 L564.79 63.72 L566.23 63.41 L567.67 63.11 L569.11 62.82 L570.55 62.54 L571.98 62.27 L573.42 62 L574.86 61.74 L576.3 61.49 L577.74 61.25 L579.18 61.01 L580.62 60.78 L582.06 60.56 L583.5 60.34 L584.94 60.13 L586.38 59.93 L587.82 59.73 L589.26 59.54 L590.7 59.36 L592.14 59.18 L593.58 59.01 L595.02 58.84 L596.46 58.68 L597.9 58.52 L599.34 58.37 L600.78 58.23 L602.22 58.09 L603.66 57.96 L605.1 57.83 L606.54 57.7 L607.98 57.59 L609.42 57.47 L610.86 57.36 L612.3 57.26 L613.74 57.16 L615.18 57.07 L616.62 56.98 L618.06 56.9 L619.49 56.82 L620.93 56.75 L622.37 56.68 L623.81 56.61 L625.25 56.56 L626.69 56.5 L628.13 56.45 L629.57 56.4 L631.01 56.36 L632.45 56.33 L633.89 56.3 L635.33 56.27 L636.77 56.25 L638.21 56.23 L639.65 56.21 L641.09 56.21 L642.53 56.2 L643.97 56.2 L645.41 56.21 L646.85 56.21 L648.29 56.23 L649.73 56.25 L651.17 56.27 L652.61 56.3 L654.05 56.33 L655.49 56.36 L656.93 56.4 L658.37 56.45 L659.81 56.5 L661.25 56.56 L662.69 56.61 L664.13 56.68 L665.57 56.75 L667.01 56.82 L668.44 56.9 L669.88 56.98 L671.32 57.07 L672.76 57.16 L674.2 57.26 L675.64 57.36 L677.08 57.47 L678.52 57.59 L679.96 57.7 L681.4 57.83 L682.84 57.96 L684.28 58.09 L685.72 58.23 L687.16 58.37 L688.6 58.52 L690.04 58.68 L691.48 58.84 L692.92 59.01 L694.36 59.18 L695.8 59.36 L697.24 59.54 L698.68 59.73 L700.12 59.93 L701.56 60.13 L703 60.34 L704.44 60.56 L705.88 60.78 L707.32 61.01 L708.76 61.25 L710.2 61.49 L711.64 61.74 L713.08 62 L714.52 62.27 L715.95 62.54 L717.39 62.82 L718.83 63.11 L720.27 63.41 L721.71 63.72 L723.15 64.03 L724.59 64.36 L726.03 64.69 L727.47 65.04 L728.91 65.39 L730.35 65.76 L731.79 66.13 L733.23 66.52 L734.67 66.91 L736.11 67.32 L737.55 67.74 L738.99 68.18 L740.43 68.62 L741.87 69.08 L743.31 69.56 L744.75 70.05 L746.19 70.55 L747.63 71.08 L749.07 71.61 L750.51 72.17 L751.95 72.75 L753.39 73.34 L754.83 73.96 L756.27 74.6 L757.71 75.26 L759.15 75.94 L760.59 76.66 L762.03 77.4 L763.46 78.17 L764.9 78.97 L766.34 79.81 L767.78 80.69 L769.22 81.6 L770.66 82.56 L772.1 83.57 L773.54 84.63 L774.98 85.74 L776.42 86.92 L777.86 88.17 L779.3 89.5 L780.74 90.92 L782.18 92.43 L783.62 94.07 L785.06 95.83 L786.5 97.75" stroke="#000" stroke-width="0.95" fill="none"/>
<path d="M515.92 242.5V237M547.75 242.5V232M579.58 242.5V237M611.42 242.5V232M643.25 242.5V237M675.08 242.5V232M706.92 242.5V237M738.75 242.5V232M770.58 242.5V237M500 43.4H510.5M500 100.4H505.5M500 157.3H510.5M500 214.4H505.5" stroke="#000" stroke-width="1.5" fill="none"/>
<path d="M500 29V242.5H786.5" stroke="#000" stroke-width="2" fill="none" stroke-linejoin="miter"/>
<rect x="125" y="29" width="661.5" height="360.8" fill="none" stroke="#000" stroke-width="2"/>
<text x="207.1" y="122.7" font-size="26">L=40</text>
<text x="207.1" y="148.5" font-size="26">L=60</text>
<text x="207.1" y="174.3" font-size="26">L=80</text>
<path d="M294.6 120.16 L289.1 111.25 L300.1 111.25 Z" fill="none" stroke="#1e90ff" stroke-width="1.65"/><rect x="294" y="113.4" width="1.2" height="1.2" fill="#1e90ff"/>
<path d="M294.6 134.04 L289.1 142.95 L300.1 142.95 Z" fill="none" stroke="#ff2424" stroke-width="1.65"/><rect x="294" y="139.6" width="1.2" height="1.2" fill="#ff2424"/>
<path d="M289.1 166.1H300.1M294.6 160.6V171.6" stroke="#000" stroke-width="1.55" fill="none"/>
<text x="6.2" y="38.5" font-size="26.5">(b)</text>
<text x="26.8" y="100.5" font-size="26">10<tspan font-size="20.8" dy="-13.4">-5</tspan><tspan dy="13.4" dx="-1.2"> / 2</tspan></text>
<text x="94.7" y="398.6" font-size="26">0</text>
<text x="188.14" y="424.2" font-size="26" text-anchor="middle">10</text>
<text x="308.41" y="424.2" font-size="26" text-anchor="middle">20</text>
<text x="428.68" y="424.2" font-size="26" text-anchor="middle">30</text>
<text x="548.95" y="424.2" font-size="26" text-anchor="middle">40</text>
<text x="669.23" y="424.2" font-size="26" text-anchor="middle">50</text>
<text x="789.5" y="424.2" font-size="26" text-anchor="middle">60</text>
<text x="428.4" y="463.5" font-size="26">U / J</text>
<path d="M27.1 235.8L44.9 246.8" stroke="#000" stroke-width="2.4" fill="none"/>
<path d="M41.2 234.2C43.5 234.5 45.6 235.7 44.9 237.3C44.2 238.9 41 240.2 36 241.3C31 242.4 27.7 243.2 27.1 244.8C26.6 246.3 28.5 247.3 30.8 247.5" stroke="#000" stroke-width="1.4" fill="none"/>
<text transform="translate(48.5,235.3) rotate(-90)" font-size="20.8">FS<tspan font-size="26" dy="-8.2" dx="1.2"> / L</tspan></text>
<text x="454.0" y="50.8" font-size="22.2">1.6</text>
<text x="452.6" y="164.7" font-size="22.2">0.8</text>
<text x="550.45" y="276.4" font-size="22.5" text-anchor="middle">0.2</text>
<text x="614.12" y="276.4" font-size="22.5" text-anchor="middle">0.4</text>
<text x="677.78" y="276.4" font-size="22.5" text-anchor="middle">0.6</text>
<text x="741.45" y="276.4" font-size="22.5" text-anchor="middle">0.8</text>
<text x="603.8" y="316.4" font-size="26">site r/L</text>
<text transform="translate(462.3,125.4) rotate(-90)" font-size="26">S<tspan font-size="20.8" dy="8">vN</tspan></text>
</svg>
</body></html>
